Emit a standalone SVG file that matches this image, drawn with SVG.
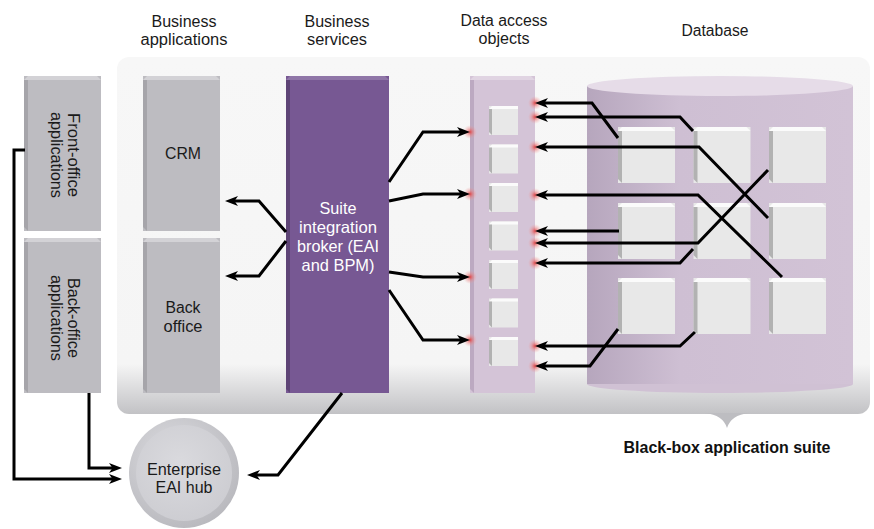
<svg xmlns="http://www.w3.org/2000/svg" width="874" height="529" viewBox="0 0 874 529">
  <defs>
    <style>
      .lbl { font-family: "Liberation Sans", Arial, sans-serif; font-size: 16px; fill: #1a1a1a; text-anchor: middle; }
      .lbl-w { font-family: "Liberation Sans", Arial, sans-serif; font-size: 16.5px; fill: #ffffff; text-anchor: middle; }
      .lbl-b { font-family: "Liberation Sans", Arial, sans-serif; font-size: 17px; font-weight: bold; fill: #111111; text-anchor: middle; }
      .gray-face { fill: #bdbcc1; }
      .gray-top { fill: #d3d2d6; }
      .gray-side { fill: #a6a5aa; }
      .pur-face { fill: #775893; }
      .pur-top { fill: #8f76a7; }
      .pur-side { fill: #5e4476; }
      .dao-face { fill: #d4c4d7; }
      .dao-top { fill: #e0d4e2; }
      .dao-side { fill: #bca9c1; }
      .sq-face { fill: #e8e8e8; }
      .sq-top { fill: #fbfbfb; }
      .sq-side { fill: #b2b2b2; }
      .wire { fill: none; stroke: #000; stroke-width: 3; stroke-linejoin: miter; }
      .arrow { marker-end: url(#head); }
      .glow { fill: url(#glowGrad); }
    </style>
    <marker id="head" markerUnits="userSpaceOnUse" markerWidth="14" markerHeight="10" viewBox="0 0 14 10" refX="7" refY="5" orient="auto">
      <path d="M0,0 L13,5 L0,10 L3.5,5 Z" fill="#000"/>
    </marker>
    <linearGradient id="panelGrad" x1="0" y1="0" x2="0" y2="1">
      <stop offset="0" stop-color="#f7f7f7"/>
      <stop offset="0.86" stop-color="#f5f5f5"/>
      <stop offset="1" stop-color="#c2c2c5"/>
    </linearGradient>
    <linearGradient id="cylGrad" x1="0" y1="0" x2="1" y2="0">
      <stop offset="0" stop-color="#b6a6bd"/>
      <stop offset="0.35" stop-color="#cebfd3"/>
      <stop offset="1" stop-color="#d2c3d6"/>
    </linearGradient>
    <radialGradient id="glowGrad">
      <stop offset="0" stop-color="#e23a3a" stop-opacity="0.9"/>
      <stop offset="0.5" stop-color="#ea7a7a" stop-opacity="0.45"/>
      <stop offset="1" stop-color="#f0a0a0" stop-opacity="0"/>
    </radialGradient>
    <radialGradient id="hubRing" cx="0.4" cy="0.35" r="0.7">
      <stop offset="0" stop-color="#dcdce0"/>
      <stop offset="1" stop-color="#b8b8bd"/>
    </radialGradient>
    <radialGradient id="hubCore" cx="0.45" cy="0.4" r="0.7">
      <stop offset="0" stop-color="#dadade"/>
      <stop offset="1" stop-color="#cbcbd0"/>
    </radialGradient>
  </defs>

  <!-- suite panel with brace tip -->
  <g id="suite-panel">
    <rect x="117" y="57" width="753" height="357" rx="12" fill="url(#panelGrad)"/>
    <path d="M705,413 Q723,415 727,428 Q731,415 749,413 Z" fill="#bdbdc1"/>
  </g>

  <!-- column headings -->
  <g id="headings">
    <text class="lbl" x="184" y="27" textLength="65" lengthAdjust="spacingAndGlyphs">Business</text>
    <text class="lbl" x="184" y="45" textLength="87" lengthAdjust="spacingAndGlyphs">applications</text>
    <text class="lbl" x="337" y="27" textLength="65" lengthAdjust="spacingAndGlyphs">Business</text>
    <text class="lbl" x="337" y="45" textLength="60" lengthAdjust="spacingAndGlyphs">services</text>
    <text class="lbl" x="504" y="26" textLength="87" lengthAdjust="spacingAndGlyphs">Data access</text>
    <text class="lbl" x="504" y="44" textLength="51" lengthAdjust="spacingAndGlyphs">objects</text>
    <text class="lbl" x="715" y="36" textLength="67" lengthAdjust="spacingAndGlyphs">Database</text>
  </g>

  <!-- front-office applications -->
  <g id="front-office">
    <rect class="gray-face" x="24" y="76" width="77" height="155"/>
    <polygon class="gray-top" points="24,80 28,76 97,76 101,80"/>
    <polygon class="gray-side" points="24,80 28,80 28,231 24,227"/>
    <g transform="translate(62.5,155) rotate(90)">
      <text class="lbl" x="0" y="-5.5" textLength="84" lengthAdjust="spacingAndGlyphs">Front-office</text>
      <text class="lbl" x="0" y="11.5" textLength="86" lengthAdjust="spacingAndGlyphs">applications</text>
    </g>
  </g>

  <!-- back-office applications -->
  <g id="back-office-apps">
    <rect class="gray-face" x="24" y="238" width="77" height="155"/>
    <polygon class="gray-top" points="24,242 28,238 97,238 101,242"/>
    <polygon class="gray-side" points="24,242 28,242 28,393 24,389"/>
    <g transform="translate(62.5,318) rotate(90)">
      <text class="lbl" x="0" y="-5.5" textLength="80" lengthAdjust="spacingAndGlyphs">Back-office</text>
      <text class="lbl" x="0" y="11.5" textLength="86" lengthAdjust="spacingAndGlyphs">applications</text>
    </g>
  </g>

  <!-- CRM -->
  <g id="crm">
    <rect class="gray-face" x="143" y="76" width="77" height="155"/>
    <polygon class="gray-top" points="143,80 147,76 216,76 220,80"/>
    <polygon class="gray-side" points="143,80 147,80 147,231 143,227"/>
    <text class="lbl" x="183" y="159" textLength="36" lengthAdjust="spacingAndGlyphs">CRM</text>
  </g>

  <!-- Back office -->
  <g id="back-office">
    <rect class="gray-face" x="143" y="238" width="77" height="155"/>
    <polygon class="gray-top" points="143,242 147,238 216,238 220,242"/>
    <polygon class="gray-side" points="143,242 147,242 147,393 143,389"/>
    <text class="lbl" x="183" y="313" textLength="35" lengthAdjust="spacingAndGlyphs">Back</text>
    <text class="lbl" x="183" y="332" textLength="39" lengthAdjust="spacingAndGlyphs">office</text>
  </g>

  <!-- integration broker -->
  <g id="broker">
    <rect class="pur-face" x="286" y="76" width="103" height="317"/>
    <polygon class="pur-top" points="286,80 290,76 385,76 389,80"/>
    <polygon class="pur-side" points="286,80 290,80 290,393 286,389"/>
    <text class="lbl-w" x="338" y="214" textLength="37" lengthAdjust="spacingAndGlyphs">Suite</text>
    <text class="lbl-w" x="338" y="233" textLength="78" lengthAdjust="spacingAndGlyphs">integration</text>
    <text class="lbl-w" x="338" y="252" textLength="82" lengthAdjust="spacingAndGlyphs">broker (EAI</text>
    <text class="lbl-w" x="338" y="271" textLength="73" lengthAdjust="spacingAndGlyphs">and BPM)</text>
  </g>

  <!-- data access objects column -->
  <g id="dao">
    <rect class="dao-face" x="470" y="76" width="65" height="317"/>
    <polygon class="dao-top" points="470,80 474,76 531,76 535,80"/>
    <polygon class="dao-side" points="470,80 474,80 474,393 470,389"/>
    <g id="dao-objects">
      <rect class="sq-face" x="489" y="106" width="29" height="29"/>
      <rect class="sq-face" x="489" y="144.5" width="29" height="29"/>
      <rect class="sq-face" x="489" y="183" width="29" height="29"/>
      <rect class="sq-face" x="489" y="221.5" width="29" height="29"/>
      <rect class="sq-face" x="489" y="260" width="29" height="29"/>
      <rect class="sq-face" x="489" y="298.5" width="29" height="29"/>
      <rect class="sq-face" x="489" y="337" width="29" height="29"/>
      <path class="sq-top" d="M489,109 l3,-3 h26 v3 Z M489,147.5 l3,-3 h26 v3 Z M489,186 l3,-3 h26 v3 Z M489,224.5 l3,-3 h26 v3 Z M489,263 l3,-3 h26 v3 Z M489,301.5 l3,-3 h26 v3 Z M489,340 l3,-3 h26 v3 Z"/>
      <path class="sq-side" d="M489,109 h3 v26 l-3,-3 Z M489,147.5 h3 v26 l-3,-3 Z M489,186 h3 v26 l-3,-3 Z M489,224.5 h3 v26 l-3,-3 Z M489,263 h3 v26 l-3,-3 Z M489,301.5 h3 v26 l-3,-3 Z M489,340 h3 v26 l-3,-3 Z"/>
    </g>
    <g id="dao-ports">
      <circle class="glow" cx="470" cy="132" r="7"/>
      <circle class="glow" cx="470" cy="194" r="7"/>
      <circle class="glow" cx="470" cy="277" r="7"/>
      <circle class="glow" cx="470" cy="340" r="7"/>
      <circle class="glow" cx="535" cy="103" r="7"/>
      <circle class="glow" cx="535" cy="117" r="7"/>
      <circle class="glow" cx="535" cy="147" r="7"/>
      <circle class="glow" cx="535" cy="195" r="7"/>
      <circle class="glow" cx="535" cy="231" r="7"/>
      <circle class="glow" cx="535" cy="243" r="7"/>
      <circle class="glow" cx="535" cy="263" r="7"/>
      <circle class="glow" cx="535" cy="346" r="7"/>
      <circle class="glow" cx="535" cy="366" r="7"/>
    </g>
  </g>

  <!-- database cylinder with tables -->
  <g id="database">
    <ellipse cx="720" cy="384" rx="133" ry="9" fill="#d0c1d4"/>
    <rect x="587" y="86" width="266" height="298" fill="url(#cylGrad)"/>
    <ellipse cx="720" cy="86" rx="133" ry="10" fill="#e6dce8"/>
    <g id="tables">
      <rect class="sq-face" x="618" y="127" width="57" height="56"/>
      <rect class="sq-face" x="693.5" y="127" width="57" height="56"/>
      <rect class="sq-face" x="769" y="127" width="57" height="56"/>
      <rect class="sq-face" x="618" y="203" width="57" height="56"/>
      <rect class="sq-face" x="693.5" y="203" width="57" height="56"/>
      <rect class="sq-face" x="769" y="203" width="57" height="56"/>
      <rect class="sq-face" x="618" y="278" width="57" height="56"/>
      <rect class="sq-face" x="693.5" y="278" width="57" height="56"/>
      <rect class="sq-face" x="769" y="278" width="57" height="56"/>
      <path class="sq-top" d="M618,131 l4,-4 h49 l4,4 Z M693.5,131 l4,-4 h49 l4,4 Z M769,131 l4,-4 h49 l4,4 Z M618,207 l4,-4 h49 l4,4 Z M693.5,207 l4,-4 h49 l4,4 Z M769,207 l4,-4 h49 l4,4 Z M618,282 l4,-4 h49 l4,4 Z M693.5,282 l4,-4 h49 l4,4 Z M769,282 l4,-4 h49 l4,4 Z"/>
      <path class="sq-side" d="M618,131 h4 v52 l-4,-4 Z M693.5,131 h4 v52 l-4,-4 Z M769,131 h4 v52 l-4,-4 Z M618,207 h4 v52 l-4,-4 Z M693.5,207 h4 v52 l-4,-4 Z M769,207 h4 v52 l-4,-4 Z M618,282 h4 v52 l-4,-4 Z M693.5,282 h4 v52 l-4,-4 Z M769,282 h4 v52 l-4,-4 Z"/>
    </g>
  </g>

  <!-- enterprise hub -->
  <g id="eai-hub">
    <circle cx="184" cy="473" r="55" fill="url(#hubRing)"/>
    <circle cx="184" cy="473" r="48" fill="url(#hubCore)"/>
    <text class="lbl" x="184" y="475" textLength="74" lengthAdjust="spacingAndGlyphs">Enterprise</text>
    <text class="lbl" x="184" y="493" textLength="57" lengthAdjust="spacingAndGlyphs">EAI hub</text>
  </g>

  <!-- suite caption -->
  <g id="caption">
    <text class="lbl-b" x="727" y="453" textLength="207" lengthAdjust="spacingAndGlyphs">Black-box application suite</text>
  </g>

  <!-- connectors -->
  <g id="connectors">
    <path class="wire arrow" d="M286,232 L259,201 L231,201"/>
    <path class="wire arrow" d="M286,241 L259,276 L231,276"/>
    <path class="wire arrow" d="M389,182 L423,132 L464,132"/>
    <path class="wire arrow" d="M389,201 L423,194 L464,194"/>
    <path class="wire arrow" d="M389,272 L423,277 L464,277"/>
    <path class="wire arrow" d="M389,290 L423,340 L464,340"/>
    <path class="wire arrow" d="M342,393 L278,475 L253,475"/>
    <path class="wire arrow" d="M25,150 L14,150 L14,479 L116,479"/>
    <path class="wire arrow" d="M89,393 L89,468 L116,468"/>
    <path class="wire arrow" d="M618,138 L592,103 L541,103"/>
    <path class="wire arrow" d="M693,131 L680,117 L541,117"/>
    <path class="wire arrow" d="M768,218 L699,147 L541,147"/>
    <path class="wire arrow" d="M782,277 L698,195 L541,195"/>
    <path class="wire arrow" d="M619,231 L541,231"/>
    <path class="wire arrow" d="M768,170 L698,243 L541,243"/>
    <path class="wire arrow" d="M693,249 L680,263 L541,263"/>
    <path class="wire arrow" d="M695,332 L680,346 L541,346"/>
    <path class="wire arrow" d="M618,329 L590,366 L541,366"/>
  </g>
</svg>
